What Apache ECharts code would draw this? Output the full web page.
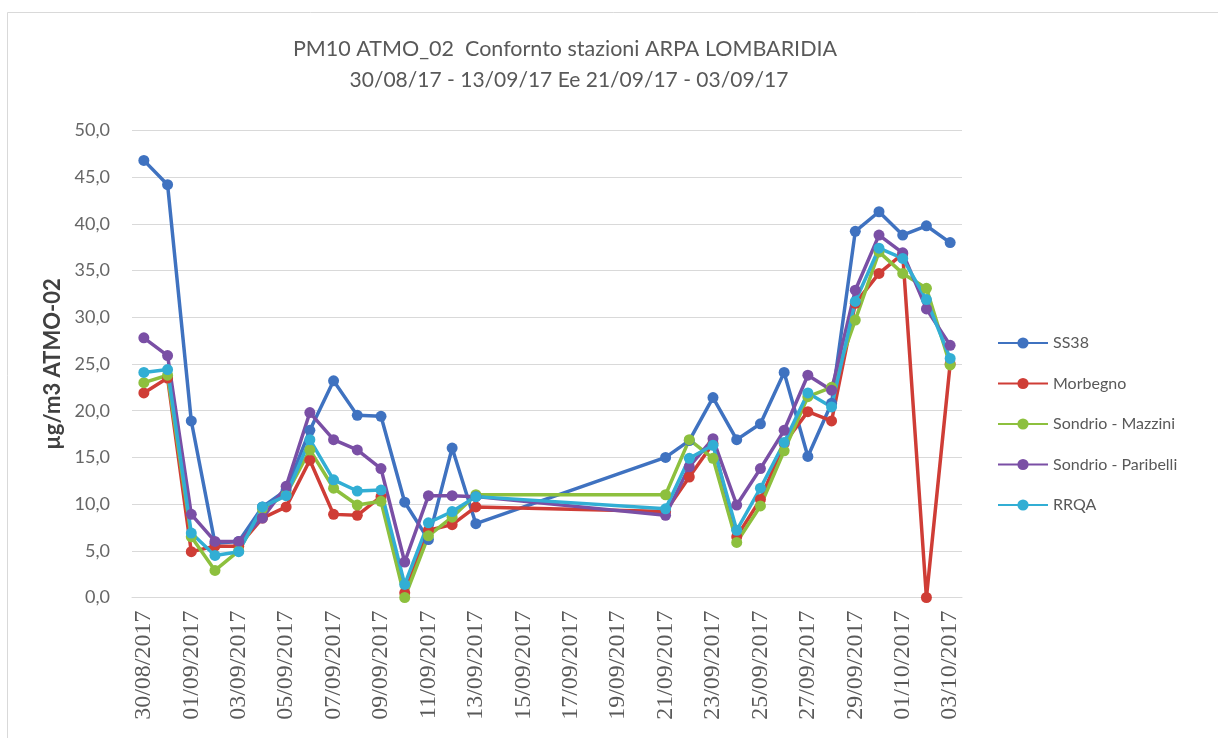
<!DOCTYPE html>
<html>
<head>
<meta charset="utf-8">
<script src="https://cdn.jsdelivr.net/npm/echarts@6/dist/echarts.min.js"></script>
<style>
  html, body { margin: 0; padding: 0; background: #fff; }
  #chart { width: 1218px; height: 738px; }
</style>
</head>
<body>
<div id="chart"></div>
<script>
var chartDom = document.getElementById('chart');
var myChart = echarts.init(chartDom);

// one category per day, the days 14/09 - 20/09 have no measurements
var days = [
  '30/08/2017', '31/08/2017', '01/09/2017', '02/09/2017', '03/09/2017', '04/09/2017',
  '05/09/2017', '06/09/2017', '07/09/2017', '08/09/2017', '09/09/2017', '10/09/2017',
  '11/09/2017', '12/09/2017', '13/09/2017', '14/09/2017', '15/09/2017', '16/09/2017',
  '17/09/2017', '18/09/2017', '19/09/2017', '20/09/2017', '21/09/2017', '22/09/2017',
  '23/09/2017', '24/09/2017', '25/09/2017', '26/09/2017', '27/09/2017', '28/09/2017',
  '29/09/2017', '30/09/2017', '01/10/2017', '02/10/2017', '03/10/2017'
];

var ss38 = [46.8, 44.2, 18.9, 5.8, 6.0, 9.7, 11.5, 17.9, 23.2, 19.5, 19.4, 10.2, 6.2, 16.0, 7.9,
  null, null, null, null, null, null, null,
  15.0, 16.8, 21.4, 16.9, 18.6, 24.1, 15.1, 20.8, 39.2, 41.3, 38.8, 39.8, 38.0];
var morbegno = [21.9, 23.5, 4.9, 5.5, 5.5, 8.5, 9.7, 14.7, 8.9, 8.8, 10.8, 0.5, 7.2, 7.8, 9.7,
  null, null, null, null, null, null, null,
  9.2, 12.9, 16.5, 6.5, 10.5, 16.5, 19.9, 18.9, 31.5, 34.7, 36.8, 0.0, 25.0];
var mazzini = [23.0, 23.8, 6.5, 2.9, 5.0, 9.5, 11.0, 15.8, 11.7, 9.9, 10.3, 0.0, 6.6, 8.6, 11.0,
  null, null, null, null, null, null, null,
  11.0, 16.9, 14.9, 5.9, 9.8, 15.7, 21.5, 22.5, 29.7, 37.0, 34.7, 33.1, 24.9];
var paribelli = [27.8, 25.9, 8.9, 6.0, 6.0, 8.5, 11.9, 19.8, 16.9, 15.8, 13.8, 3.8, 10.9, 10.9, 10.8,
  null, null, null, null, null, null, null,
  8.8, 14.0, 17.0, 9.9, 13.8, 17.9, 23.8, 22.2, 32.9, 38.8, 36.9, 30.9, 27.0];
var rrqa = [24.1, 24.4, 6.9, 4.5, 4.9, 9.7, 10.9, 16.9, 12.6, 11.4, 11.5, 1.4, 8.0, 9.2, 10.8,
  null, null, null, null, null, null, null,
  9.5, 14.9, 16.3, 7.2, 11.7, 16.6, 21.9, 20.4, 31.7, 37.4, 36.3, 31.9, 25.6];

var names = ['SS38', 'Morbegno', 'Sondrio - Mazzini', 'Sondrio - Paribelli', 'RRQA'];
var values = [ss38, morbegno, mazzini, paribelli, rrqa];
var colors = ['#3f72c0', '#cf3d36', '#8dc03e', '#7a4fa5', '#32aed4'];

var series = names.map(function (name, i) {
  return {
    name: name,
    type: 'line',
    data: values[i],
    connectNulls: true,
    symbol: 'circle',
    symbolSize: 11,
    lineStyle: { width: 3.5, color: colors[i] },
    itemStyle: { color: colors[i] }
  };
});

var sans = 'Lato, "Liberation Sans", sans-serif';

myChart.setOption({
  animation: false,
  backgroundColor: '#fff',
  title: [{
    text: 'PM10 ATMO_02  Confornto stazioni ARPA LOMBARIDIA',
    left: 560,
    textAlign: 'center',
    top: 33,
    textStyle: { fontFamily: sans, fontSize: 21.5, fontWeight: 'normal', color: '#595959' }
  }, {
    text: '30/08/17 - 13/09/17 Ee 21/09/17 - 03/09/17',
    left: 564,
    textAlign: 'center',
    top: 65,
    textStyle: { fontFamily: sans, fontSize: 21, fontWeight: 'normal', color: '#595959' }
  }],
  graphic: [{
    type: 'rect',
    shape: { x: 7.5, y: 12.5, width: 1240, height: 760 },
    style: { fill: 'none', stroke: '#d9d9d9', lineWidth: 1 },
    silent: true
  }],
  legend: {
    orient: 'vertical',
    left: 997,
    top: 335,
    padding: 0,
    itemWidth: 50,
    itemHeight: 14,
    itemGap: 24.5,
    textStyle: { fontFamily: sans, fontSize: 16, color: '#595959' },
    data: names
  },
  grid: { left: 132, right: 256, top: 130.5, bottom: 140.5 },
  xAxis: {
    type: 'category',
    data: days,
    boundaryGap: true,
    axisLine: { lineStyle: { color: '#d9d9d9' } },
    axisTick: { show: false },
    axisLabel: {
      interval: 1,
      rotate: 90,
      margin: 13,
      fontFamily: '"Liberation Serif", "DejaVu Serif", serif',
      fontSize: 24,
      color: '#595959'
    }
  },
  yAxis: {
    type: 'value',
    min: 0,
    max: 50,
    interval: 5,
    name: 'µg/m3 ATMO-02',
    nameLocation: 'middle',
    nameGap: 68,
    nameTextStyle: { fontFamily: sans, fontSize: 22, fontWeight: 'bold', color: '#404040' },
    axisLine: { show: false },
    axisTick: { show: false },
    axisLabel: {
      margin: 22,
      fontFamily: sans,
      fontSize: 18,
      color: '#666666',
      formatter: function (v) { return v.toFixed(1).replace('.', ','); }
    },
    splitLine: { lineStyle: { color: '#d9d9d9', width: 1 } }
  },
  series: series
});
</script>
</body>
</html>
